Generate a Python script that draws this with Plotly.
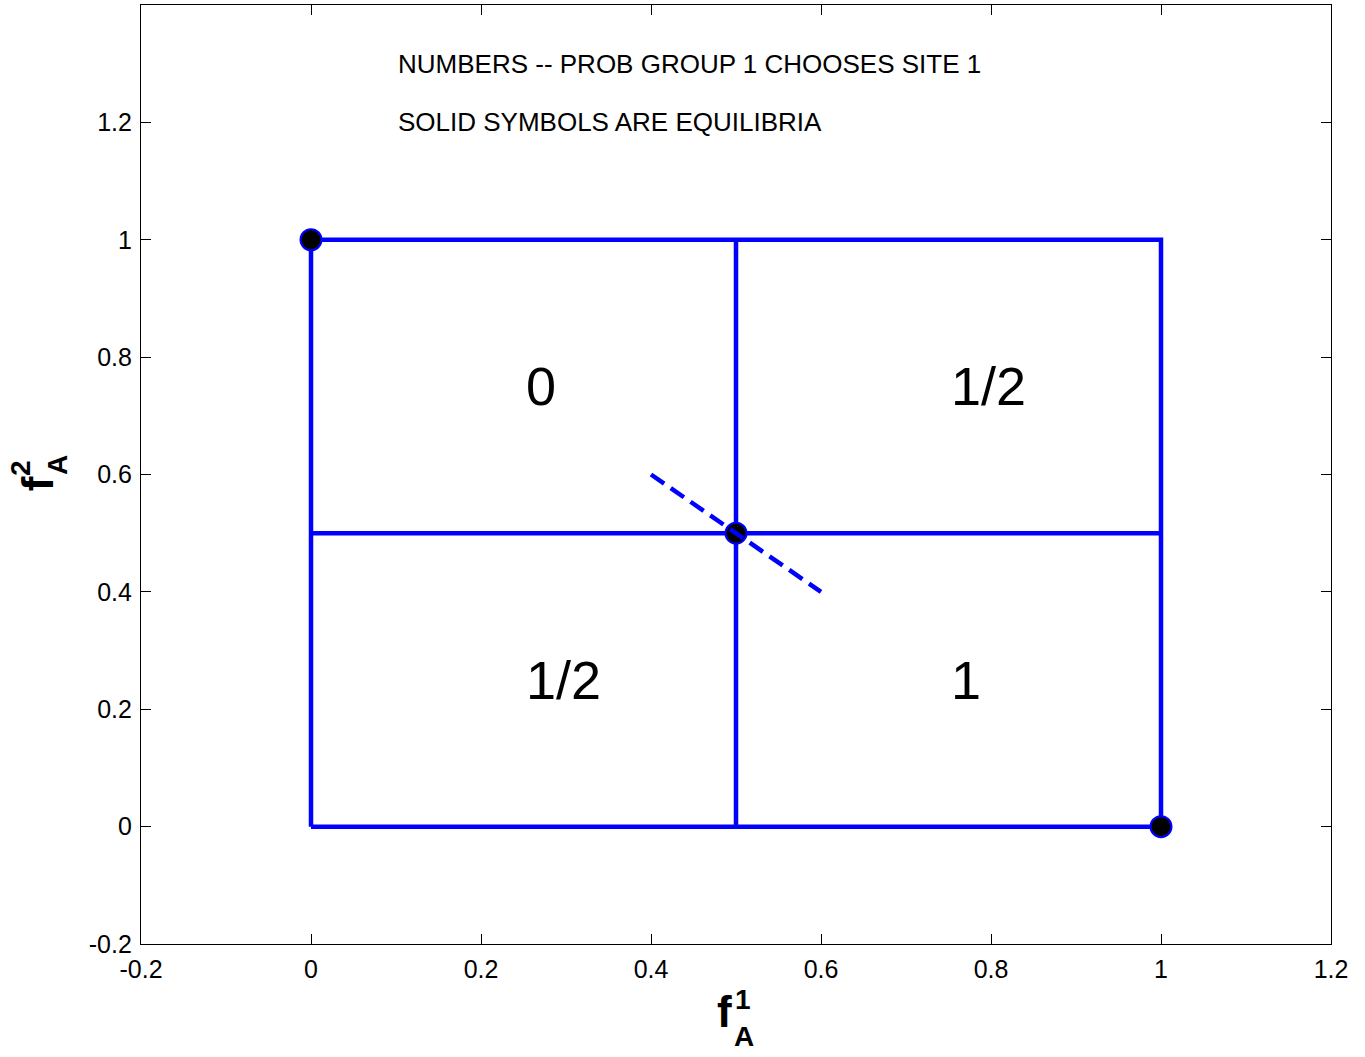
import plotly.graph_objects as go

# ---- data ----
box_x = [0, 1, 1, 0, 0, None, 0.5, 0.5, None, 0, 1]
box_y = [0, 0, 1, 1, 0, None, 0, 1, None, 0.5, 0.5]
eq_x = [0, 1, 0.5]
eq_y = [1, 0, 0.5]
dash_x = [0.4, 0.6]
dash_y = [0.6, 0.4]
region_x = [0.25, 0.75, 0.25, 0.75]
region_y = [0.75, 0.75, 0.25, 0.25]
region_text = ["0", "1/2", "1/2", "1"]
note_x = [0.1, 0.1]
note_y = [1.3, 1.2]
note_text = ["NUMBERS -- PROB GROUP 1 CHOOSES SITE 1", "SOLID SYMBOLS ARE EQUILIBRIA"]
xticks = [-0.2, 0, 0.2, 0.4, 0.6, 0.8, 1, 1.2]
xtick_text = ["-0.2", "0", "0.2", "0.4", "0.6", "0.8", "1", "1.2"]
yticks = [-0.2, 0, 0.2, 0.4, 0.6, 0.8, 1, 1.2]
ytick_text = ["-0.2", "0", "0.2", "0.4", "0.6", "0.8", "1", "1.2"]

FONT = "Liberation Sans, Arial, Helvetica, sans-serif"
BLUE = "#0000FF"

fig = go.Figure()
fig.add_trace(go.Scatter(x=box_x, y=box_y, mode="lines",
                         line=dict(color=BLUE, width=4.5), hoverinfo="skip"))
fig.add_trace(go.Scatter(x=eq_x, y=eq_y, mode="markers",
                         marker=dict(size=21, color="black", line=dict(color=BLUE, width=2)),
                         hoverinfo="skip"))
fig.add_trace(go.Scatter(x=dash_x, y=dash_y, mode="lines",
                         line=dict(color=BLUE, width=4.5, dash="16px,8px"), hoverinfo="skip"))

annotations = []
for x, y, t in zip(region_x, region_y, region_text):
    annotations.append(dict(x=x, y=y, xref="x", yref="y", text=t, showarrow=False,
                            xanchor="left", yanchor="middle",
                            font=dict(family=FONT, size=54, color="black")))
for x, y, t in zip(note_x, note_y, note_text):
    annotations.append(dict(x=x, y=y, xref="x", yref="y", text=t, showarrow=False,
                            xanchor="left", yanchor="middle",
                            font=dict(family=FONT, size=26, color="black")))

# axis labels (stacked super/subscripts)
def lab(x, y, t, size, angle=0):
    return dict(x=x, y=y, xref="paper", yref="paper", text="<b>%s</b>" % t, showarrow=False,
                xanchor="center", yanchor="middle", textangle=angle,
                font=dict(family=FONT, size=size, color="black"))

annotations += [
    lab(0.4905, -0.0724, "f", 44),
    lab(0.5060, -0.0590, "1", 28),
    lab(0.5070, -0.0980, "A", 28),
    lab(-0.0870, 0.490, "f", 44, -90),
    lab(-0.1008, 0.5070, "2", 28, -90),
    lab(-0.0706, 0.510, "A", 28, -90),
]

axis_common = dict(showgrid=False, zeroline=False, showline=True, linecolor="black",
                   linewidth=1.2, mirror="ticks", ticks="inside", ticklen=10,
                   tickcolor="black", tickwidth=1,
                   tickfont=dict(family=FONT, size=25, color="black"))

fig.update_layout(
    width=1365, height=1057,
    margin=dict(l=141, r=34, t=5, b=113),
    paper_bgcolor="white", plot_bgcolor="white",
    showlegend=False,
    xaxis=dict(range=[-0.2, 1.2], tickvals=xticks, ticktext=xtick_text,
               ticklabelstandoff=3, **axis_common),
    yaxis=dict(range=[-0.2, 1.4], tickvals=yticks, ticktext=ytick_text,
               ticklabelstandoff=3, **axis_common),
    annotations=annotations,
)

fig.write_html("out.html", config={"displayModeBar": False},
               post_script="document.body.style.margin='0px';document.body.style.overflow='hidden';")
